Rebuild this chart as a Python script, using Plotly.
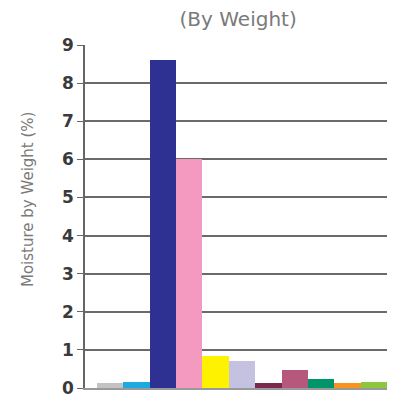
import plotly.graph_objects as go

categories = ["A", "B", "C", "D", "E", "F", "G", "H", "I", "J", "K"]
moisture = [0.12, 0.17, 8.6, 6.0, 0.84, 0.72, 0.13, 0.47, 0.23, 0.12, 0.17]
colors = ["#c3c3c3", "#1fa9e1", "#2e3192", "#f49ac1", "#fff200", "#c5c1e1",
          "#7a2a4f", "#b5587b", "#00946b", "#f7941d", "#8dc63f"]
y_ticks = [0, 1, 2, 3, 4, 5, 6, 7, 8, 9]

fig = go.Figure(go.Bar(
    x=categories,
    y=moisture,
    marker=dict(color=colors, line=dict(width=0)),
))

# page body has an 8px margin, so the figure is a bit smaller than the window
fig.update_layout(
    width=392, height=392,
    paper_bgcolor="white", plot_bgcolor="white",
    margin=dict(l=77, r=13, t=37, b=12, autoexpand=False),
    bargap=0,
    showlegend=False,
    title=dict(text="(By Weight)", x=0.587, xanchor="center", y=0.972, yanchor="middle",
               font=dict(family="DejaVu Sans", size=20, color="#7a7a7a")),
)
fig.add_annotation(
    text="Moisture by Weight (%)", textangle=-90, showarrow=False,
    xref="paper", yref="paper", x=0, y=0.548, xanchor="center", yanchor="middle",
    xshift=-57, font=dict(family="DejaVu Sans", size=15, color="#7a7a7a"),
)
fig.update_xaxes(
    range=[-0.95, 10.5], showticklabels=False, ticks="",
    showgrid=False, showline=True, linecolor="#999999", linewidth=1.5,
    automargin=False,
)
fig.update_yaxes(
    range=[0, 9], tickvals=y_ticks, ticks="outside", ticklen=6,
    tickcolor="#666666", tickwidth=1.2,
    showgrid=True, gridcolor="#6a6a6a", gridwidth=1.5,
    showline=True, linecolor="#666666", linewidth=1.5,
    tickfont=dict(family="DejaVu Sans", size=17, color="#3a3a3a", weight="bold"),
    zeroline=False, automargin=False,
)

fig.write_html("out.html")
